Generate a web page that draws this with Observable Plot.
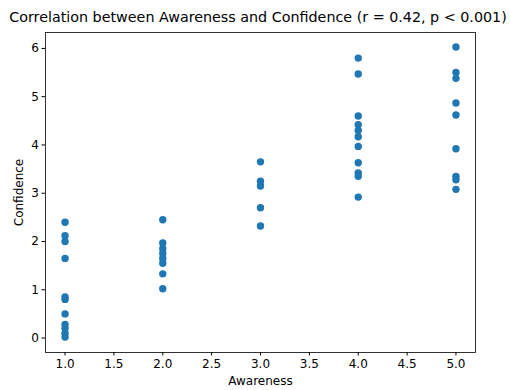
<!DOCTYPE html>
<html>
<head>
<meta charset="utf-8">
<script src="https://cdn.jsdelivr.net/npm/d3@7"></script>
<script src="https://cdn.jsdelivr.net/npm/@observablehq/plot@0.6"></script>
<style>
  html, body { margin: 0; padding: 0; background: #fff; }
  body { width: 510px; height: 390px; overflow: hidden; font-family: "DejaVu Sans", sans-serif; }
  #title { position: relative; height: 30px; width: 510px; }
  #title span { position: absolute; left: 258px; top: 9px; transform: translateX(-50%); white-space: nowrap; font-size: 14.3px; color: #000; }
</style>
</head>
<body>
<div id="title"><span>Correlation between Awareness and Confidence (r = 0.42, p &lt; 0.001)</span></div>
<div id="chart"></div>
<script>
const awareness1 = [2.4, 2.12, 2.0, 1.65, 0.85, 0.8, 0.5, 0.28, 0.2, 0.1, 0.02];
const awareness2 = [2.45, 1.97, 1.85, 1.75, 1.65, 1.55, 1.33, 1.02];
const awareness3 = [3.65, 3.25, 3.15, 2.7, 2.32];
const awareness4 = [5.8, 5.47, 4.6, 4.42, 4.3, 4.17, 3.97, 3.63, 3.42, 3.35, 2.92];
const awareness5 = [6.03, 5.5, 5.38, 4.87, 4.62, 3.92, 3.35, 3.28, 3.08];
const awarenessLevels = [1, 2, 3, 4, 5];
const xTicks = [1.0, 1.5, 2.0, 2.5, 3.0, 3.5, 4.0, 4.5, 5.0];
const yTicks = [0, 1, 2, 3, 4, 5, 6];

const groups = [awareness1, awareness2, awareness3, awareness4, awareness5];
const data = groups.flatMap((vals, i) => vals.map(v => ({awareness: awarenessLevels[i], confidence: v})));

const chart = Plot.plot({
  width: 510,
  height: 360,
  marginTop: 2,
  marginBottom: 38,
  marginLeft: 45,
  marginRight: 35,
  style: {fontFamily: "DejaVu Sans, sans-serif", fontSize: "12px", color: "#000", background: "#fff"},
  x: {domain: [0.8, 5.2]},
  y: {domain: [-0.3, 6.33]},
  marks: [
    Plot.frame({stroke: "#000", strokeWidth: 0.8}),
    Plot.axisX({ticks: xTicks, tickFormat: d => d.toFixed(1), tickSize: 3.5, tickPadding: 3, label: "Awareness", labelAnchor: "center", labelOffset: 32, labelArrow: "none", fontSize: 12}),
    Plot.axisY({ticks: yTicks, tickFormat: d => String(d), tickSize: 3.5, tickPadding: 3, label: "Confidence", labelAnchor: "center", labelOffset: 31, labelArrow: "none", fontSize: 12}),
    Plot.dot(data, {x: "awareness", y: "confidence", r: 3.7, fill: "#1f77b4", stroke: "none"})
  ]
});
document.getElementById("chart").appendChild(chart);
</script>
</body>
</html>
